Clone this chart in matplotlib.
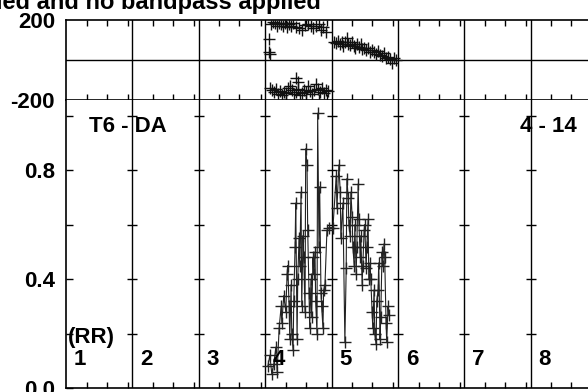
# RR panel chart: phase scatter on top, RR trace below
import numpy as np
import matplotlib
matplotlib.use("Agg")
import matplotlib.pyplot as plt

plt.rcParams['font.family'] = ['Liberation Sans', 'DejaVu Sans']
plt.rcParams['font.weight'] = 'bold'

# ======================================
# DATA
# ======================================

title_text = "ied and no bandpass applied"
left_label = "T6 - DA"
right_label = "4 - 14"
unit_label = "(RR)"
bin_labels = ["1", "2", "3", "4", "5", "6", "7", "8"]

# top panel (phase, -200..200)
phase_x = [3.09, 3.12, 3.15, 3.18, 3.21, 3.24, 3.27, 3.30, 3.33, 3.36, 3.39, 3.42,
           3.46, 3.51, 3.55, 3.60, 3.64, 3.69, 3.72, 3.77, 3.81, 3.84, 3.87, 3.92,
           3.06, 3.05, 3.07,
           3.07, 3.10, 3.13, 3.16, 3.19, 3.22, 3.25, 3.28, 3.31, 3.34, 3.37, 3.40,
           3.43, 3.46, 3.49, 3.52, 3.55, 3.58, 3.46, 3.49, 3.61, 3.64, 3.67, 3.70,
           3.73, 3.76, 3.79, 3.82, 3.85, 3.88, 3.91, 3.94, 3.81,
           4.04, 4.07, 4.10, 4.13, 4.16, 4.17, 4.20, 4.23, 4.25, 4.28, 4.31, 4.34,
           4.35, 4.38, 4.41, 4.44, 4.46, 4.49, 4.52, 4.55, 4.58, 4.61, 4.64, 4.67,
           4.70, 4.73, 4.76, 4.79, 4.82, 4.85, 4.88, 4.91, 4.94, 4.97]
phase_y = [180, 190, 185, 172, 186, 182, 168, 184, 165, 178, 170, 184,
           165, 158, 150, 175, 182, 168, 158, 172, 180, 150, 165, 140,
           105, 40, 30,
           -140, -150, -160, -145, -170, -155, -175, -160, -165, -140, -130, -150,
           -170, -160, -145, -175, -165, -150, -90, -110, -160, -130, -155, -170,
           -150, -120, -145, -160, -140, -165, -150, -155, -200,
           90, 85, 95, 80, 88, 70, 92, 110, 82, 75, 90, 70,
           60, 78, 65, 82, 55, 60, 48, 62, 40, 50, 38, 30,
           45, 25, 20, 35, 10, 15, 5, -15, 8, 0]

# bottom panel (RR)
rr_x = [3.04, 3.07, 3.10, 3.13, 3.16, 3.18, 3.21, 3.24, 3.25, 3.28, 3.31, 3.33,
        3.34, 3.36, 3.37, 3.39, 3.40, 3.42, 3.43, 3.45, 3.46, 3.48, 3.49, 3.51,
        3.52, 3.54, 3.55, 3.57, 3.58, 3.60, 3.61, 3.63, 3.64, 3.66, 3.67, 3.69,
        3.70, 3.72, 3.73, 3.75, 3.76, 3.78, 3.79, 3.81, 3.82, 3.84, 3.85, 3.87,
        3.88, 3.90, 3.93, 3.96, 4.02, 4.07, 4.08, 4.11, 4.13, 4.14, 4.17, 4.20,
        4.22, 4.23, 4.25, 4.26, 4.28, 4.29, 4.31, 4.32, 4.34, 4.35, 4.37, 4.38,
        4.40, 4.41, 4.43, 4.44, 4.46, 4.47, 4.49, 4.50, 4.52, 4.53, 4.55, 4.56,
        4.58, 4.59, 4.61, 4.62, 4.64, 4.65, 4.67, 4.68, 4.70, 4.71, 4.73, 4.74,
        4.76, 4.77, 4.79, 4.80, 4.82, 4.83, 4.85, 4.86]
rr_y = [0.08, 0.12, 0.05, 0.09, 0.15, 0.06, 0.22, 0.30, 0.24, 0.34, 0.28, 0.42,
        0.45, 0.30, 0.18, 0.38, 0.20, 0.14, 0.32, 0.52, 0.68, 0.18, 0.40, 0.55,
        0.45, 0.72, 0.30, 0.56, 0.48, 0.28, 0.88, 0.82, 0.58, 0.35, 0.22, 0.40,
        0.26, 0.48, 0.42, 0.50, 0.32, 0.20, 1.01, 0.52, 0.74, 0.35, 0.30, 0.22,
        0.36, 0.38, 0.58, 0.59, 0.59, 0.78, 0.66, 0.82, 0.72, 0.55, 0.68, 0.17,
        0.44, 0.77, 0.70, 0.60, 0.56, 0.72, 0.63, 0.52, 0.45, 0.60, 0.42, 0.52,
        0.75, 0.62, 0.48, 0.56, 0.38, 0.45, 0.58, 0.60, 0.44, 0.52, 0.62, 0.40,
        0.46, 0.40, 0.28, 0.22, 0.36, 0.20, 0.16, 0.32, 0.36, 0.46, 0.18, 0.26,
        0.50, 0.45, 0.53, 0.48, 0.24, 0.17, 0.30, 0.27]

# ======================================
# FIGURE
# ======================================

W, H = 588, 392
fig = plt.figure(figsize=(W / 100, H / 100), dpi=100)

xmax = 8.04
left = 66 / W
width = (66 + xmax * 66.4) / W - left

ax_top = fig.add_axes([left, 1 - 100 / H, width, 80 / H])
ax_bot = fig.add_axes([left, 4 / H, width, 288 / H])

minor = [k + f for k in range(9) for f in (0.31, 0.61, 0.93) if k + f < xmax]
lines_x = list(range(1, 9))
fs = 16

for ax in (ax_top, ax_bot):
    for s in ax.spines.values():
        s.set_linewidth(1.2)
    ax.spines['right'].set_visible(False)
    for k in lines_x:
        ax.axvline(k, color='black', lw=1.0, zorder=1)
    ax.set_xticks(minor)
    ax.set_xticklabels([])
    ax.set_xlim(0, xmax)

# top panel
ax_top.set_ylim(-200, 200)
ax_top.axhline(0, color='black', lw=1.0)
ax_top.set_yticks([-200, 200])
ax_top.set_yticklabels(["-200", "200"], fontsize=fs, fontweight='bold')
ax_top.tick_params(axis='y', length=0, pad=8)
ax_top.tick_params(axis='x', direction='in', length=4, width=1, top=True, bottom=True)
ax_top.plot(phase_x, phase_y, linestyle='none', marker='+', ms=9, mew=1,
            color='#111111', zorder=3)

# bottom panel
ax_bot.set_ylim(0, 288 / 272)
ax_bot.spines['top'].set_visible(False)
ax_bot.set_yticks([0.0, 0.2, 0.4, 0.6, 0.8, 1.0])
ax_bot.set_yticklabels(["0.0", "", "0.4", "", "0.8", ""], fontsize=fs, fontweight='bold')
ax_bot.tick_params(axis='y', direction='in', length=5, width=1, pad=8)
ax_bot.tick_params(axis='x', direction='in', length=4, width=1, top=False, bottom=True)

for k in lines_x:
    ax_bot.plot([k] * 5, [0.2, 0.4, 0.6, 0.8, 1.0], linestyle='none', marker='_',
                ms=7.5, mew=1, color='black', clip_on=False)

ax_bot.plot(rr_x, rr_y, color='#222222', lw=0.8, marker='+', ms=9, mew=1, zorder=3)

for k, lab in enumerate(bin_labels):
    ax_bot.text(k + 0.21, 0.103, lab, fontsize=fs, fontweight='bold',
                ha='center', va='center')
ax_bot.text(0.03, 0.1875, unit_label, fontsize=fs, fontweight='bold', ha='left', va='center')

fig.text(89 / W, 1 - 126 / H, left_label, fontsize=fs, fontweight='bold', ha='left', va='center')
fig.text(577 / W, 1 - 126 / H, right_label, fontsize=fs, fontweight='bold', ha='right', va='center')
fig.text(321 / W, 1 - 9 / H, title_text, fontsize=17, fontweight='bold', ha='right', va='baseline')

fig.savefig("out.png", dpi=100)
